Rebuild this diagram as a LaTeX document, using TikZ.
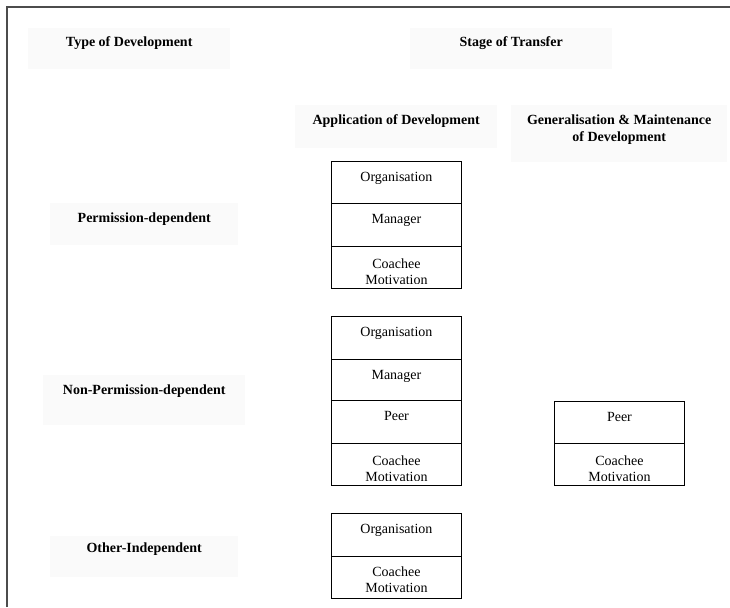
\documentclass[tikz,border=0pt]{standalone}
\usepackage{fontspec}
\setmainfont{Liberation Serif}
\definecolor{hdrfill}{RGB}{250,250,250}
\tikzset{
  hdr/.style={fill=hdrfill, draw=none, inner sep=0pt, anchor=north west},
  hdrtext/.style={font=\fontsize{14pt}{16.5pt}\selectfont\bfseries,
                  anchor=base, inner sep=0pt, align=center},
  cell/.style={draw=black, line width=0.9pt, fill=white, inner sep=0pt,
               anchor=north west, minimum width=130pt},
  celltext/.style={font=\fontsize{14pt}{16pt}\selectfont,
                   anchor=base, inner sep=0pt, align=center},
  frameline/.style={draw=black!70, line width=1.6pt},
}
\begin{document}
\begin{tikzpicture}[x=1pt, y=-1pt]
\useasboundingbox (0,0) rectangle (730,607);

% open frame along the top and left edges
\coordinate (fbl) at (7,607);
\coordinate (ftl) at (7,7);
\coordinate (ftr) at (730,7);
\draw[frameline] (fbl) -- (ftl) -- (ftr);

% heading boxes (two-line texts are anchored at their last baseline)
\node[hdr, minimum width=202pt, minimum height=41pt] (tod) at (28,28) {};
\node[hdrtext] (todt) at ([yshift=-19pt]tod.north) {Type of Development};

\node[hdr, minimum width=202pt, minimum height=41pt] (sot) at (410,28) {};
\node[hdrtext] (sott) at ([yshift=-19pt]sot.north) {Stage of Transfer};

\node[hdr, minimum width=202pt, minimum height=43pt] (app) at (295,105) {};
\node[hdrtext] (appt) at ([yshift=-19.5pt]app.north) {Application of Development};

\node[hdr, minimum width=216pt, minimum height=57pt] (gen) at (511,105) {};
\node[hdrtext] (gent) at ([yshift=-36pt]gen.north) {Generalisation \& Maintenance\\of Development};

\node[hdr, minimum width=188pt, minimum height=42pt] (pd) at (50,203) {};
\node[hdrtext] (pdt) at ([yshift=-19.5pt]pd.north) {Permission-dependent};

\node[hdr, minimum width=202pt, minimum height=50pt] (npd) at (43,375) {};
\node[hdrtext] (npdt) at ([yshift=-19.5pt]npd.north) {Non-Permission-dependent};

\node[hdr, minimum width=188pt, minimum height=41pt] (oi) at (50,536) {};
\node[hdrtext] (oit) at ([yshift=-16.5pt]oi.north) {Other-Independent};

% permission-dependent stack
\node[cell, minimum height=42pt] (a1) at (331,161) {};
\node[cell, minimum height=43pt] (a2) at (331,203) {};
\node[cell, minimum height=42pt] (a3) at (331,246) {};
\node[celltext] (a1t) at ([yshift=-20.5pt]a1.north) {Organisation};
\node[celltext] (a2t) at ([yshift=-20.5pt]a2.north) {Manager};
\begin{scope}
  \clip (a3.north west) rectangle ([yshift=5pt]a3.south east);
  \node[celltext] (a3t) at ([yshift=-38.5pt]a3.north) {Coachee\\Motivation};
\end{scope}

% non-permission-dependent stack (application)
\node[cell, minimum height=43pt] (b1) at (331,316) {};
\node[cell, minimum height=41pt] (b2) at (331,359) {};
\node[cell, minimum height=43pt] (b3) at (331,400) {};
\node[cell, minimum height=42pt] (b4) at (331,443) {};
\node[celltext] (b1t) at ([yshift=-20.5pt]b1.north) {Organisation};
\node[celltext] (b2t) at ([yshift=-20.5pt]b2.north) {Manager};
\node[celltext] (b3t) at ([yshift=-20.5pt]b3.north) {Peer};
\begin{scope}
  \clip (b4.north west) rectangle ([yshift=5pt]b4.south east);
  \node[celltext] (b4t) at ([yshift=-38.5pt]b4.north) {Coachee\\Motivation};
\end{scope}

% non-permission-dependent stack (generalisation)
\node[cell, minimum height=42pt] (c1) at (554,401) {};
\node[cell, minimum height=42pt] (c2) at (554,443) {};
\node[celltext] (c1t) at ([yshift=-20.5pt]c1.north) {Peer};
\begin{scope}
  \clip (c2.north west) rectangle ([yshift=5pt]c2.south east);
  \node[celltext] (c2t) at ([yshift=-38.5pt]c2.north) {Coachee\\Motivation};
\end{scope}

% other-independent stack
\node[cell, minimum height=43pt] (d1) at (331,513) {};
\node[cell, minimum height=42pt] (d2) at (331,556) {};
\node[celltext] (d1t) at ([yshift=-20.5pt]d1.north) {Organisation};
\node[celltext] (d2t) at ([yshift=-36.5pt]d2.north) {Coachee\\Motivation};
\end{tikzpicture}
\end{document}
